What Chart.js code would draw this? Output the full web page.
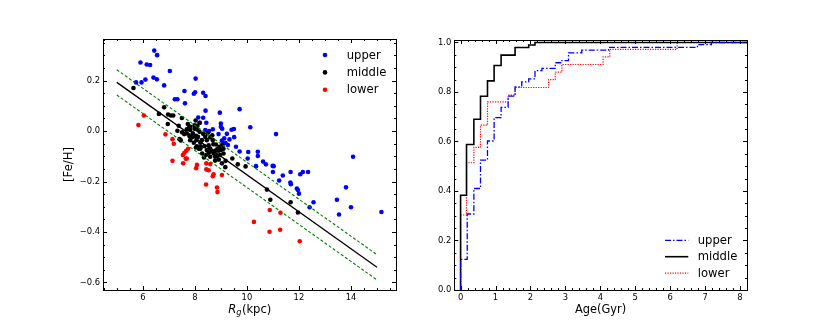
<!DOCTYPE html>
<html>
<head>
<meta charset="utf-8">
<script src="https://cdn.jsdelivr.net/npm/chart.js@4.4.1/dist/chart.umd.min.js"></script>
<style>
  html, body { margin: 0; padding: 0; background: #fff; }
  #wrap { position: relative; width: 830px; height: 332px; }
  canvas { position: absolute; top: 0; }
</style>
</head>
<body>
<div id="wrap">
  <canvas id="left" width="415" height="332" style="left:0"></canvas>
  <canvas id="right" width="415" height="332" style="left:415px"></canvas>
</div>
<script>
// ---------- left panel: [Fe/H] vs Rg ----------
const upperX = [6.44, 6.55, 5.91, 6.15, 6.28, 7.04, 5.74, 5.95, 6.10, 6.41, 6.54, 6.82, 8.03, 7.60, 7.96, 8.01,
  8.32, 8.41, 7.23, 7.33, 7.62, 8.41, 8.96, 9.72, 8.13, 8.32, 8.18, 8.44, 10.13, 11.12, 9.00, 9.05, 8.69, 8.40,
  9.23, 9.41, 9.50, 9.51, 9.33, 9.13, 9.04, 8.91, 9.58, 9.72, 10.05, 10.42, 10.42, 10.03, 10.62, 10.73, 10.99,
  11.03, 10.35, 11.00, 11.38, 11.24, 11.68, 12.05, 12.15, 12.35, 11.67, 11.69, 11.92, 11.96, 12.00, 12.56,
  12.41, 13.46, 13.54, 13.81, 14.00, 14.08, 15.17, 9.08, 9.18, 9.27, 9.00, 8.55];
const upperY = [0.319, 0.301, 0.272, 0.264, 0.262, 0.238, 0.193, 0.193, 0.204, 0.212, 0.205, 0.181, 0.208, 0.159,
  0.148, 0.154, 0.152, 0.139, 0.126, 0.126, 0.110, 0.081, 0.073, 0.087, 0.054, 0.053, 0.033, 0.033, 0.015,
  -0.012, 0.017, 0.009, 0.007, 0.004, -0.011, 0.005, 0.008, -0.024, -0.033, -0.029, -0.038, -0.012, -0.062,
  -0.081, -0.083, -0.082, -0.099, -0.109, -0.121, -0.132, -0.138, -0.139, -0.139, -0.162, -0.176, -0.196,
  -0.162, -0.171, -0.162, -0.162, -0.204, -0.211, -0.228, -0.234, -0.248, -0.282, -0.302, -0.272, -0.331,
  -0.223, -0.302, -0.102, -0.321, -0.052, -0.047, -0.055, 0.030, 0.000];

const middleX = [5.64, 6.82, 6.62, 6.97, 7.08, 7.17, 6.96, 7.50, 7.38, 7.73, 7.79, 7.69, 7.68, 7.59, 7.51, 7.33,
  7.41, 7.46, 7.83, 7.99, 8.10, 8.18, 7.92, 8.04, 8.12, 8.27, 8.06, 8.21, 8.32, 8.40, 8.46, 8.53, 8.23, 8.59,
  8.46, 8.65, 8.72, 8.78, 8.59, 8.86, 8.92, 8.78, 9.00, 9.10, 9.18, 9.17, 9.04, 8.81, 8.69, 8.59, 8.49, 8.67,
  8.37, 8.21, 8.28, 8.15, 8.08, 7.96, 7.82, 7.90, 7.99, 8.10, 8.19, 8.03, 7.82, 7.79, 8.04, 8.35, 8.44, 8.54,
  8.71, 8.87, 8.95, 9.05, 9.10, 8.91, 8.97, 8.79, 9.44, 9.65, 9.95, 10.77, 10.90, 11.68, 11.96];
const middleY = [0.171, 0.094, 0.068, 0.066, 0.062, 0.062, 0.028, 0.052, 0.021, 0.028, 0.017, 0.007, -0.009,
  -0.012, -0.005, 0.001, -0.032, -0.037, 0.017, 0.009, 0.005, -0.003, -0.009, -0.019, -0.023, -0.036, -0.036,
  -0.046, -0.011, -0.023, -0.036, -0.056, -0.062, -0.069, -0.075, -0.078, -0.089, -0.102, -0.102, -0.098,
  -0.113, -0.117, -0.075, -0.089, -0.118, -0.143, -0.128, -0.053, -0.036, -0.025, -0.009, -0.017, -0.060,
  -0.070, -0.089, -0.070, -0.060, -0.046, -0.036, -0.024, 0.023, 0.021, 0.033, 0.042, 0.004, -0.020, -0.065,
  -0.105, -0.094, -0.086, -0.052, -0.070, -0.062, -0.054, -0.070, -0.078, -0.095, -0.077, -0.109, -0.132,
  -0.140, -0.232, -0.272, -0.282, -0.323];

const lowerX = [6.04, 5.83, 6.87, 7.14, 7.19, 7.74, 7.67, 7.60, 7.54, 7.65, 7.69, 7.14, 7.55, 8.08, 8.05, 8.44,
  8.44, 8.53, 8.59, 8.72, 8.69, 8.43, 8.85, 8.87, 9.04, 10.88, 11.29, 10.27, 10.87, 11.28, 12.03];
const lowerY = [0.062, 0.024, -0.013, -0.032, -0.050, -0.070, -0.078, -0.086, -0.095, -0.110, -0.109, -0.118,
  -0.128, -0.134, -0.147, -0.128, -0.152, -0.155, -0.131, -0.171, -0.179, -0.212, -0.224, -0.242, -0.174,
  -0.313, -0.324, -0.360, -0.399, -0.391, -0.437];

// fit line and the two dashed bands
const fitX = [5, 15];
const fitY = [0.193, -0.540];
const bandTopY = [0.243, -0.490];
const bandLowY = [0.143, -0.590];

// ---------- right panel: cumulative age distributions ----------
const ageUpper = [0, 0, 0.19, 0.38, 0.57, 0.77, 0.96, 1.16, 1.36, 1.56, 1.75, 1.95, 2.13, 2.33, 2.71, 2.90, 3.09, 3.47, 4.24, 6.78, 7.18, 8.5];
const cdfUpper = [0, 0.124, 0.307, 0.410, 0.525, 0.602, 0.696, 0.738, 0.783, 0.821, 0.841, 0.853, 0.886, 0.895, 0.918, 0.927, 0.958, 0.969, 0.980, 0.991, 1.0, 1.0];
const ageMiddle = [0, 0, 0.17, 0.38, 0.57, 0.77, 0.96, 1.16, 1.56, 1.95, 2.13, 8.5];
const cdfMiddle = [0, 0.383, 0.588, 0.690, 0.783, 0.845, 0.907, 0.949, 0.980, 0.990, 1.0, 1.0];
const ageLower = [0, 0, 0.17, 0.38, 0.57, 0.77, 1.36, 1.56, 2.52, 2.71, 2.90, 4.08, 4.27, 6.20, 8.5];
const cdfLower = [0, 0.303, 0.514, 0.576, 0.666, 0.760, 0.787, 0.818, 0.850, 0.880, 0.911, 0.942, 0.972, 1.0, 1.0];

const groups = ["upper", "middle", "lower"];

const FONT = "'DejaVu Sans', sans-serif";
const pts = (xs, ys) => xs.map((x, i) => ({ x, y: ys[i] }));
const fmt1 = v => (Math.abs(v) < 1e-9 ? "0.0" : v.toFixed(1).replace("-", "\u2212"));

// ===============================
// frame, inward ticks, titles, legend
// ===============================
const frame = {
  id: "frame",
  afterDraw(chart, args, o) {
    const { ctx, chartArea: a, scales } = chart;
    ctx.save();
    ctx.strokeStyle = "#000";
    ctx.lineWidth = 1;
    ctx.strokeRect(Math.round(a.left) + 0.5, Math.round(a.top) + 0.5,
      Math.round(a.right - a.left), Math.round(a.bottom - a.top));

    const tickSet = (sc, major, minor, cb) => {
      for (let i = Math.ceil(sc.min / minor - 1e-6); i * minor <= sc.max + 1e-9; i++) {
        const v = i * minor;
        const isMajor = Math.abs(v / major - Math.round(v / major)) < 1e-6;
        cb(Math.round(sc.getPixelForValue(v)) + 0.5, isMajor ? 4 : 2);
      }
    };
    ctx.beginPath();
    tickSet(scales.x, o.xMajor, o.xMinor, (p, l) => {
      ctx.moveTo(p, a.bottom); ctx.lineTo(p, a.bottom - l);
      ctx.moveTo(p, a.top); ctx.lineTo(p, a.top + l);
    });
    tickSet(scales.y, o.yMajor, o.yMinor, (p, l) => {
      ctx.moveTo(a.left, p); ctx.lineTo(a.left + l, p);
      ctx.moveTo(a.right, p); ctx.lineTo(a.right - l, p);
    });
    ctx.stroke();

    ctx.fillStyle = "#000";
    ctx.textBaseline = "alphabetic";
    if (o.drawTitles) o.drawTitles(ctx, a);

    // legend
    ctx.font = "11.6px " + FONT;
    ctx.textAlign = "left";
    ctx.textBaseline = "middle";
    o.legend.items.forEach((idx, k) => {
      const ds = chart.data.datasets[idx];
      const y = o.legend.y + k * o.legend.dy;
      if (o.legend.kind === "point") {
        ctx.beginPath();
        ctx.fillStyle = ds.backgroundColor;
        ctx.arc(o.legend.x, y, 2.3, 0, Math.PI * 2);
        ctx.fill();
      } else {
        ctx.beginPath();
        ctx.strokeStyle = ds.borderColor;
        ctx.lineWidth = ds.borderWidth;
        ctx.setLineDash(ds.borderDash || []);
        ctx.moveTo(o.legend.x, y);
        ctx.lineTo(o.legend.x + o.legend.len, y);
        ctx.stroke();
        ctx.setLineDash([]);
      }
      ctx.fillStyle = "#000";
      ctx.fillText(groups[k], o.legend.tx, y + 0.5);
    });
    ctx.restore();
  }
};

const tickFont = { family: FONT, size: 8.4 };

// ===============================
// LEFT: scatter
// ===============================
new Chart(document.getElementById("left"), {
  type: "scatter",
  data: {
    datasets: [
      { type: "line", data: pts(fitX, fitY), borderColor: "#000", borderWidth: 1.3, pointRadius: 0, fill: false },
      { type: "line", data: pts(fitX, bandTopY), borderColor: "#008000", borderWidth: 1.1, borderDash: [3, 2], pointRadius: 0, fill: false },
      { type: "line", data: pts(fitX, bandLowY), borderColor: "#008000", borderWidth: 1.1, borderDash: [3, 2], pointRadius: 0, fill: false },
      { label: "middle", data: pts(middleX, middleY), backgroundColor: "#000000", pointBackgroundColor: "#000000", pointRadius: 2.3, pointBorderWidth: 0 },
      { label: "lower", data: pts(lowerX, lowerY), backgroundColor: "#ff0000", pointBackgroundColor: "#ff0000", pointRadius: 2.3, pointBorderWidth: 0 },
      { label: "upper", data: pts(upperX, upperY), backgroundColor: "#0000ff", pointBackgroundColor: "#0000ff", pointRadius: 2.3, pointBorderWidth: 0 }
    ]
  },
  options: {
    responsive: false,
    animation: false,
    devicePixelRatio: 1,
    layout: { padding: { left: 0, top: 39, right: 19, bottom: 0 } },
    plugins: {
      legend: { display: false },
      tooltip: { enabled: false },
      frame: {
        xMajor: 2, xMinor: 0.5, yMajor: 0.2, yMinor: 0.05,
        legend: { kind: "point", items: [5, 3, 4], x: 325, tx: 346.7, y: 55, dy: 17.4 },
        drawTitles(ctx, a) {
          // x title: R_g(kpc)
          const cx = (a.left + a.right) / 2, by = 312.5;
          const fR = "italic 11.6px " + FONT, fg = "italic 8.2px " + FONT, fk = "11.6px " + FONT;
          ctx.font = fR; const wR = ctx.measureText("R").width;
          ctx.font = fg; const wg = ctx.measureText("g").width;
          ctx.font = fk; const wk = ctx.measureText("(kpc)").width;
          let x0 = cx - (wR + wg + wk) / 2;
          ctx.textAlign = "left";
          ctx.font = fR; ctx.fillText("R", x0, by);
          ctx.font = fg; ctx.fillText("g", x0 + wR, by + 2.5);
          ctx.font = fk; ctx.fillText("(kpc)", x0 + wR + wg + 0.5, by);
          // y title
          ctx.save();
          ctx.translate(72, (a.top + a.bottom) / 2);
          ctx.rotate(-Math.PI / 2);
          ctx.textAlign = "center";
          ctx.font = "11.6px " + FONT;
          ctx.fillText("[Fe/H]", 0, 0);
          ctx.restore();
        }
      }
    },
    scales: {
      x: {
        type: "linear", min: 4.47, max: 15.73,
        afterFit(s) { s.height = 42; },
        grid: { display: false, drawTicks: false },
        border: { display: false },
        ticks: { stepSize: 2, includeBounds: false, padding: 3, color: "#000", font: tickFont, maxRotation: 0,
          callback: v => String(v) }
      },
      y: {
        type: "linear", min: -0.63, max: 0.365,
        afterFit(s) { s.width = 103; },
        grid: { display: false, drawTicks: false },
        border: { display: false },
        ticks: { stepSize: 0.2, includeBounds: false, padding: 3, color: "#000", font: tickFont, callback: fmt1 }
      }
    }
  },
  plugins: [frame]
});

// ===============================
// RIGHT: cumulative distributions
// ===============================
new Chart(document.getElementById("right"), {
  type: "line",
  data: {
    datasets: [
      { label: "upper", data: pts(ageUpper, cdfUpper), borderColor: "#0000ff", borderWidth: 1.3, borderDash: [6, 2, 1.5, 2], stepped: "before", pointRadius: 0, fill: false },
      { label: "middle", data: pts(ageMiddle, cdfMiddle), borderColor: "#000000", borderWidth: 1.6, stepped: "before", pointRadius: 0, fill: false },
      { label: "lower", data: pts(ageLower, cdfLower), borderColor: "#ff0000", borderWidth: 1.2, borderDash: [1.2, 1.3], stepped: "before", pointRadius: 0, fill: false }
    ]
  },
  options: {
    responsive: false,
    animation: false,
    devicePixelRatio: 1,
    layout: { padding: { left: 0, top: 40, right: 83, bottom: 0 } },
    plugins: {
      legend: { display: false },
      tooltip: { enabled: false },
      frame: {
        xMajor: 1, xMinor: 0.2, yMajor: 0.2, yMinor: 0.05,
        legend: { kind: "line", items: [0, 1, 2], x: 250, len: 23.3, tx: 282.7, y: 240.3, dy: 16.4 },
        drawTitles(ctx, a) {
          ctx.textAlign = "center";
          ctx.font = "11.4px " + FONT;
          ctx.fillText("Age(Gyr)", (a.left + a.right) / 2, 312.5);
        }
      }
    },
    scales: {
      x: {
        type: "linear", min: -0.18, max: 8.2,
        afterFit(s) { s.height = 42; },
        grid: { display: false, drawTicks: false },
        border: { display: false },
        ticks: { stepSize: 1, includeBounds: false, padding: 3, color: "#000", font: tickFont, maxRotation: 0,
          callback: v => String(v) }
      },
      y: {
        type: "linear", min: 0, max: 1.01,
        afterFit(s) { s.width = 39.3; },
        grid: { display: false, drawTicks: false },
        border: { display: false },
        ticks: { stepSize: 0.2, includeBounds: false, padding: 3, color: "#000", font: tickFont, callback: fmt1 }
      }
    }
  },
  plugins: [frame]
});
</script>
</body>
</html>
